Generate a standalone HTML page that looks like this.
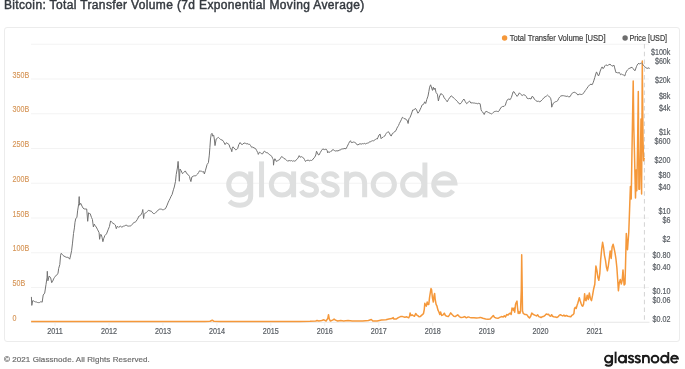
<!DOCTYPE html>
<html><head><meta charset="utf-8"><style>
html,body{margin:0;padding:0;background:#fff;width:685px;height:369px;overflow:hidden;}
.t{position:absolute;font-family:"Liberation Sans", sans-serif;white-space:nowrap;}
</style></head><body>
<div style="position:absolute;left:4px;top:27px;width:674px;height:313px;border:1px solid #ececec;border-radius:3px;"></div>
<svg width="685" height="369" viewBox="0 0 685 369" style="position:absolute;left:0;top:0;will-change:transform">
<text x="3.9" y="8.8" font-family='"Liberation Sans", sans-serif' font-size="12" fill="#353a40" stroke="#353a40" stroke-width="0.45" letter-spacing="0.36">Bitcoin: Total Transfer Volume (7d Exponential Moving Average)</text>
<line x1="31" y1="44.25" x2="649" y2="44.25" stroke="#f3f3f3" stroke-width="1"/>
<line x1="31" y1="79" x2="649" y2="79" stroke="#f3f3f3" stroke-width="1"/>
<line x1="31" y1="113.75" x2="649" y2="113.75" stroke="#f3f3f3" stroke-width="1"/>
<line x1="31" y1="148.5" x2="649" y2="148.5" stroke="#f3f3f3" stroke-width="1"/>
<line x1="31" y1="183.25" x2="649" y2="183.25" stroke="#f3f3f3" stroke-width="1"/>
<line x1="31" y1="218" x2="649" y2="218" stroke="#f3f3f3" stroke-width="1"/>
<line x1="31" y1="252.75" x2="649" y2="252.75" stroke="#f3f3f3" stroke-width="1"/>
<line x1="31" y1="287.5" x2="649" y2="287.5" stroke="#f3f3f3" stroke-width="1"/>
<line x1="31" y1="322.25" x2="649.5" y2="322.25" stroke="#e6e6e6" stroke-width="1"/>
<line x1="55.0" y1="322.5" x2="55.0" y2="326" stroke="#f0f0f0" stroke-width="1"/>
<line x1="109.0" y1="322.5" x2="109.0" y2="326" stroke="#f0f0f0" stroke-width="1"/>
<line x1="162.9" y1="322.5" x2="162.9" y2="326" stroke="#f0f0f0" stroke-width="1"/>
<line x1="216.9" y1="322.5" x2="216.9" y2="326" stroke="#f0f0f0" stroke-width="1"/>
<line x1="270.8" y1="322.5" x2="270.8" y2="326" stroke="#f0f0f0" stroke-width="1"/>
<line x1="324.8" y1="322.5" x2="324.8" y2="326" stroke="#f0f0f0" stroke-width="1"/>
<line x1="378.8" y1="322.5" x2="378.8" y2="326" stroke="#f0f0f0" stroke-width="1"/>
<line x1="432.7" y1="322.5" x2="432.7" y2="326" stroke="#f0f0f0" stroke-width="1"/>
<line x1="486.7" y1="322.5" x2="486.7" y2="326" stroke="#f0f0f0" stroke-width="1"/>
<line x1="540.6" y1="322.5" x2="540.6" y2="326" stroke="#f0f0f0" stroke-width="1"/>
<line x1="594.6" y1="322.5" x2="594.6" y2="326" stroke="#f0f0f0" stroke-width="1"/>
<line x1="644.4" y1="44" x2="644.4" y2="321" stroke="#d3d3d3" stroke-width="1" stroke-dasharray="4.5,3.25"/>
<g fill="none" stroke="#dedfdf" stroke-width="5"><circle cx="239.3" cy="184.4" r="10.6"/>
<path d="M250.7,171.6 V196 C250.7,202 246,205.3 240,205.3 C235.5,205.3 232,203.9 229.4,201.3"/>
<path d="M261.55,161.4 V197.3"/>
<circle cx="281.9" cy="184.5" r="10.6"/>
<path d="M293.6,171.4 V197.3"/>
<path d="M316.6,178.3 C315.3,175.4 312.5,173.8 309.3,173.8 C305.5,173.8 302.8,175.9 302.8,178.9 C302.8,182.2 306,183.2 309.5,184 C313.3,184.9 316.5,186.3 316.5,189.8 C316.5,193.2 313.4,195.3 309.4,195.3 C305.8,195.3 302.8,193.6 301.3,190.8"/>
<path transform="translate(20.8,0)" d="M316.6,178.3 C315.3,175.4 312.5,173.8 309.3,173.8 C305.5,173.8 302.8,175.9 302.8,178.9 C302.8,182.2 306,183.2 309.5,184 C313.3,184.9 316.5,186.3 316.5,189.8 C316.5,193.2 313.4,195.3 309.4,195.3 C305.8,195.3 302.8,193.6 301.3,190.8"/>
<path d="M346.6,197.3 V171.6 M346.6,183.5 C346.6,177.6 350.6,173.9 355.6,173.9 C360.8,173.9 364.65,177.6 364.65,183.5 V197.3"/>
<circle cx="383.8" cy="184.6" r="10.6"/>
<circle cx="413.2" cy="184.7" r="10.6"/>
<path d="M424.9,162.5 V197.4"/>
<path d="M433.75,183.1 H454.85 A10.6,10.6 0 1 0 453.0,190.6"/></g>
<path d="M31.1,321.6 L100.0,321.6 L150.0,321.6 L205.0,321.5 L210.0,321.3 L212.3,320.2 L214.0,321.3 L220.0,321.5 L260.0,321.5 L300.0,321.4 L310.0,321.3 L315.8,321.0 L317.0,320.5 L318.8,321.0 L321.7,320.5 L323.9,319.8 L326.1,321.0 L327.8,318.4 L328.5,314.7 L329.3,319.1 L330.4,321.0 L332.6,320.1 L334.1,319.1 L335.5,320.1 L337.7,321.0 L340.7,320.5 L343.6,321.0 L348.0,320.5 L352.3,321.0 L356.7,321.0 L362.6,321.0 L368.4,320.5 L371.3,319.5 L372.8,321.0 L377.2,321.0 L381.5,320.1 L385.9,319.8 L388.8,319.1 L391.8,318.6 L393.2,317.6 L393.9,319.1 L396.1,319.1 L398.3,317.6 L400.5,316.6 L402.7,316.6 L404.9,317.2 L406.8,316.8 L408.7,317.8 L409.6,316.0 L410.1,312.9 L410.9,315.6 L412.1,314.8 L413.3,315.6 L414.5,316.3 L415.7,313.5 L416.6,314.8 L417.8,315.6 L419.0,316.8 L420.2,316.6 L421.5,315.4 L422.7,314.4 L423.5,313.5 L424.3,309.3 L424.8,303.2 L425.5,305.0 L426.3,306.2 L427.2,302.0 L427.9,304.4 L428.8,304.4 L429.6,297.1 L430.4,292.2 L431.0,288.5 L431.6,289.8 L432.4,297.7 L433.3,302.0 L434.0,295.9 L434.6,293.4 L435.2,299.5 L436.1,304.4 L437.0,306.2 L437.9,309.9 L438.9,312.0 L439.8,314.4 L440.6,312.0 L441.6,315.4 L442.8,315.1 L444.3,313.2 L445.5,315.6 L447.1,316.3 L448.3,316.6 L449.5,314.8 L450.7,312.9 L452.3,314.8 L453.8,316.3 L455.2,316.6 L456.5,315.6 L457.7,314.8 L459.3,316.6 L461.1,317.6 L462.9,317.2 L464.7,316.6 L466.4,317.8 L468.2,316.9 L469.9,317.4 L471.7,317.8 L474.0,317.8 L476.4,318.0 L478.7,317.8 L480.4,317.4 L482.2,318.0 L483.9,318.6 L485.7,319.0 L488.0,319.2 L490.1,319.0 L491.5,317.4 L493.3,315.5 L494.5,317.4 L496.2,318.0 L498.0,318.3 L499.7,317.4 L501.5,316.6 L503.2,316.9 L504.4,315.7 L505.5,316.9 L506.7,314.5 L507.9,315.1 L509.1,313.9 L510.2,313.1 L511.2,314.5 L512.0,308.1 L512.8,308.7 L513.5,310.4 L514.0,308.1 L514.7,312.2 L515.5,304.6 L516.1,302.8 L517.0,301.1 L517.5,307.5 L518.2,313.4 L519.0,311.6 L519.8,313.4 L520.5,311.6 L521.3,290.0 L521.7,254.7 L522.2,290.0 L522.5,311.0 L523.3,313.4 L524.8,314.5 L526.3,314.5 L527.2,315.1 L528.3,316.9 L529.5,318.0 L530.7,316.3 L531.8,313.1 L533.0,314.3 L534.7,315.1 L536.5,315.9 L537.7,314.8 L538.8,316.6 L540.0,317.0 L541.1,317.6 L542.3,316.7 L544.0,316.2 L545.1,315.3 L546.3,313.9 L547.4,314.4 L548.5,314.2 L549.7,315.9 L550.8,316.2 L551.6,314.7 L552.5,316.2 L553.7,316.7 L555.4,317.0 L557.1,317.4 L558.2,316.7 L559.4,315.1 L560.5,314.7 L561.6,315.3 L562.8,315.9 L563.9,315.1 L565.1,316.2 L566.4,315.5 L567.9,316.2 L569.4,316.4 L570.8,316.7 L571.9,315.3 L573.0,314.7 L573.9,313.6 L574.5,308.5 L575.3,307.3 L576.2,308.5 L577.0,305.6 L577.8,303.3 L578.7,299.9 L579.3,297.7 L580.1,300.5 L581.0,303.3 L581.9,305.6 L582.7,306.2 L583.5,304.5 L584.2,298.8 L584.6,293.7 L585.3,299.9 L586.1,300.7 L587.2,295.2 L588.3,299.6 L589.3,293.0 L590.4,298.5 L591.5,300.7 L592.6,295.2 L593.7,288.7 L594.8,284.3 L595.9,265.9 L597.0,271.0 L597.9,277.5 L598.8,280.3 L599.8,273.7 L600.7,259.4 L601.7,249.0 L602.6,242.3 L603.6,248.0 L604.5,255.6 L605.5,260.4 L606.4,267.0 L607.4,270.8 L608.3,266.1 L609.3,258.5 L610.2,250.9 L611.2,258.5 L612.1,247.1 L613.1,244.2 L614.0,248.0 L615.0,252.8 L615.9,258.5 L616.9,268.0 L617.8,281.3 L618.4,290.8 L619.2,283.2 L620.3,279.4 L621.3,284.1 L622.2,280.3 L623.0,269.9 L624.1,285.0 L625.0,284.0 L625.5,266.0 L626.3,233.5 L627.5,249.7 L628.8,231.8 L629.6,209.2 L630.4,186.5 L631.2,199.0 L632.0,150.0 L633.2,81.0 L633.8,127.0 L634.4,150.0 L635.5,198.0 L636.2,170.0 L636.8,190.7 L637.5,150.0 L638.3,91.5 L638.7,150.0 L638.9,189.3 L639.6,189.3 L640.5,150.0 L641.0,119.0 L641.6,194.0 L642.3,61.0 L643.0,140.0 L643.6,160.8 L644.3,158.0" fill="none" stroke="#f5983a" stroke-width="1.5" stroke-linejoin="round"/>
<path d="M31.4,296.9 L31.8,305.4 L32.7,300.7 L33.7,300.9 L34.6,301.6 L35.5,301.9 L36.5,302.0 L37.5,302.5 L38.4,302.6 L39.4,302.6 L40.3,301.9 L41.2,301.8 L42.2,302.2 L43.2,295.0 L44.7,293.1 L46.0,284.5 L47.0,277.9 L47.3,271.3 L47.9,280.8 L49.2,276.0 L50.7,277.9 L51.7,282.7 L52.7,281.2 L53.6,278.9 L54.5,277.4 L55.5,276.1 L56.4,275.1 L57.2,274.7 L58.0,273.2 L58.7,268.4 L59.8,264.6 L60.6,255.2 L61.2,253.3 L62.1,254.2 L63.1,255.5 L64.0,256.1 L65.0,256.6 L65.9,257.1 L66.8,257.4 L67.8,257.3 L68.8,257.9 L69.7,259.2 L70.7,255.1 L71.6,250.7 L72.5,243.1 L73.5,233.6 L74.4,227.9 L75.0,222.2 L75.8,218.4 L76.9,217.5 L77.6,210.9 L78.8,203.3 L79.2,196.6 L79.5,205.2 L80.7,203.3 L82.0,206.1 L83.0,208.0 L84.0,208.9 L84.9,209.0 L85.8,209.0 L86.7,209.0 L87.7,221.3 L88.6,212.7 L89.4,213.5 L90.2,213.7 L91.5,217.5 L92.4,219.4 L93.4,227.0 L94.3,224.1 L95.2,225.7 L96.2,227.0 L97.7,229.8 L99.1,232.7 L99.6,239.3 L100.4,234.6 L101.3,234.7 L102.0,237.2 L102.9,241.7 L103.6,238.8 L104.9,235.5 L106.5,233.9 L108.1,229.8 L109.4,226.6 L110.6,220.9 L111.7,222.2 L113.0,223.3 L114.3,224.1 L115.4,225.0 L116.3,228.7 L117.1,226.6 L117.9,226.5 L118.7,227.4 L120.3,226.1 L121.2,226.9 L122.0,227.1 L123.6,226.1 L124.4,226.0 L125.2,225.4 L126.0,225.4 L126.8,225.1 L127.7,226.3 L128.5,226.1 L129.3,226.0 L130.1,226.1 L130.9,225.8 L132.5,224.1 L134.1,222.2 L134.9,222.4 L135.8,221.7 L137.4,219.3 L139.0,216.0 L139.8,215.8 L140.7,215.2 L142.0,212.8 L142.8,209.5 L143.6,218.5 L144.2,214.4 L145.5,212.8 L146.3,212.6 L147.2,211.5 L148.0,210.8 L148.8,210.3 L150.0,211.0 L151.2,211.1 L152.0,211.9 L152.9,213.2 L153.7,213.6 L154.5,213.6 L155.3,212.8 L156.9,211.6 L157.9,210.2 L158.8,209.7 L159.8,209.0 L160.7,209.1 L161.6,209.0 L162.6,210.0 L163.5,209.7 L164.4,209.2 L165.4,208.8 L166.8,205.9 L168.3,202.1 L169.2,200.3 L170.2,198.3 L171.1,196.2 L172.1,194.5 L173.4,189.8 L174.3,187.0 L175.5,181.3 L176.2,174.6 L177.4,168.0 L178.1,161.4 L178.7,169.0 L179.3,181.3 L180.0,169.0 L181.2,170.9 L182.5,173.7 L183.8,172.4 L185.3,170.9 L186.8,173.7 L188.2,174.6 L189.5,176.5 L190.3,180.0 L190.9,181.6 L191.9,176.9 L192.9,176.4 L193.8,175.9 L194.8,175.8 L195.7,175.9 L196.6,174.8 L197.6,174.0 L198.6,172.5 L199.5,170.8 L200.4,171.1 L201.4,171.2 L202.5,171.8 L203.6,171.6 L204.4,174.0 L205.5,170.2 L207.1,164.5 L208.4,162.7 L209.3,155.1 L209.9,147.5 L210.5,139.0 L211.2,134.2 L212.0,133.3 L212.7,136.1 L213.7,135.2 L214.3,139.0 L215.0,145.6 L216.2,139.0 L217.5,138.0 L218.4,137.4 L219.4,138.4 L220.3,139.0 L221.2,139.9 L222.2,139.9 L223.7,141.8 L225.1,144.6 L226.4,142.7 L227.9,143.7 L229.1,144.6 L229.9,147.3 L231.0,149.0 L231.8,151.7 L232.3,148.4 L232.9,146.8 L234.0,147.9 L235.0,149.3 L235.8,149.8 L236.7,149.5 L237.7,148.4 L238.8,144.6 L240.1,142.5 L241.2,144.1 L242.1,144.6 L242.9,144.1 L244.0,143.0 L245.3,143.2 L246.2,143.9 L247.0,143.5 L248.6,144.3 L249.7,144.3 L250.7,145.7 L251.6,147.3 L252.7,147.1 L254.0,147.9 L255.6,148.6 L256.7,150.6 L257.8,152.7 L258.3,154.4 L259.4,152.2 L260.5,152.7 L261.6,153.8 L262.7,153.8 L263.7,151.7 L264.6,151.1 L265.4,152.2 L266.2,152.6 L267.0,152.7 L267.8,152.9 L268.6,153.8 L269.7,154.9 L270.8,155.5 L271.9,156.5 L272.6,158.4 L273.3,159.8 L273.5,165.2 L274.0,161.4 L274.8,158.7 L275.4,159.2 L276.2,161.4 L277.3,160.9 L278.4,160.3 L279.4,159.8 L280.5,158.2 L281.6,156.5 L282.7,157.1 L283.8,158.4 L285.2,159.0 L286.5,160.1 L287.6,161.2 L289.2,160.5 L290.3,160.9 L291.4,160.5 L292.5,161.2 L293.6,160.8 L294.7,161.2 L295.5,160.9 L296.3,159.7 L297.9,158.3 L299.2,155.6 L300.1,157.2 L301.7,156.7 L302.5,157.3 L303.3,157.7 L304.4,159.4 L305.5,161.5 L306.6,160.5 L308.2,160.1 L309.0,160.7 L309.8,160.8 L310.6,160.3 L311.5,160.5 L312.3,160.1 L313.1,159.0 L314.7,157.2 L315.8,155.0 L316.5,151.2 L317.4,152.9 L318.0,154.5 L319.0,155.0 L320.4,152.3 L321.7,150.2 L322.8,148.9 L324.4,149.6 L325.2,149.4 L326.1,149.1 L327.2,150.7 L327.7,152.9 L328.5,151.8 L329.9,152.3 L330.7,151.5 L331.5,151.2 L332.3,149.9 L333.1,149.6 L334.7,150.7 L335.8,151.1 L336.9,150.7 L338.0,151.0 L339.1,150.2 L340.7,149.9 L341.5,148.9 L342.3,148.9 L343.1,149.0 L344.0,148.5 L345.0,148.6 L346.0,148.8 L347.3,146.3 L348.6,143.6 L349.7,141.5 L350.5,140.7 L351.3,142.6 L352.9,142.3 L353.7,142.0 L354.6,142.3 L355.4,142.6 L356.2,143.9 L357.0,144.7 L358.0,144.9 L359.0,144.2 L360.1,143.7 L361.1,144.2 L362.7,143.6 L363.5,143.8 L364.3,143.3 L365.1,143.9 L365.9,143.9 L366.8,143.2 L367.6,143.1 L368.8,142.7 L370.0,141.5 L370.8,141.8 L371.7,141.0 L372.5,140.7 L373.7,140.8 L374.9,139.8 L375.7,139.3 L376.5,138.8 L377.3,139.0 L378.1,137.1 L379.0,135.0 L380.1,134.1 L381.1,138.7 L382.1,137.5 L383.0,137.4 L383.9,136.4 L384.7,136.1 L385.5,134.6 L386.3,133.3 L387.9,131.7 L389.2,132.5 L390.3,135.0 L391.2,136.1 L392.5,133.3 L393.4,132.9 L394.4,132.2 L395.2,131.0 L396.0,130.6 L396.9,128.2 L397.7,126.8 L398.5,125.6 L399.3,123.6 L400.6,121.1 L401.3,119.7 L402.4,117.3 L403.2,117.7 L404.1,118.6 L405.7,118.9 L406.5,120.2 L407.3,120.5 L408.1,123.5 L408.9,118.9 L410.1,117.3 L411.4,114.0 L412.7,110.0 L413.8,110.0 L415.4,108.3 L416.6,110.0 L417.9,113.2 L419.2,111.6 L420.3,109.1 L421.1,107.5 L422.0,105.1 L422.8,104.6 L423.6,104.3 L424.7,101.8 L425.7,103.5 L426.8,99.4 L428.0,96.1 L428.9,91.3 L429.6,87.2 L430.6,84.8 L431.7,88.0 L432.5,90.4 L433.3,87.2 L434.1,89.6 L435.0,88.0 L436.1,92.6 L437.4,94.2 L438.4,101.0 L439.3,97.0 L440.7,93.7 L442.0,94.2 L443.1,95.3 L444.2,97.8 L445.5,99.4 L446.4,100.6 L447.2,101.8 L448.5,99.4 L449.6,97.8 L451.2,95.8 L452.0,96.4 L452.8,97.0 L453.6,98.0 L454.5,98.6 L455.3,99.5 L456.1,100.2 L457.4,101.4 L458.7,103.3 L460.1,104.1 L461.7,102.3 L462.8,100.3 L463.9,99.0 L465.2,101.4 L466.6,103.7 L468.2,102.3 L469.5,101.0 L470.9,103.0 L472.3,102.8 L473.3,103.0 L474.3,103.0 L475.3,103.3 L476.3,103.3 L477.3,103.8 L478.3,103.3 L479.2,103.5 L480.1,103.7 L480.7,107.1 L481.1,109.8 L481.7,111.2 L482.5,111.8 L483.4,113.2 L484.2,114.5 L485.1,112.2 L486.1,111.4 L487.2,111.8 L488.5,112.5 L489.9,113.2 L490.7,113.5 L491.5,113.9 L492.4,113.4 L493.2,112.5 L494.2,111.7 L495.3,111.4 L496.3,111.2 L497.3,111.4 L498.2,111.7 L499.1,110.9 L500.0,109.1 L501.4,107.1 L502.7,106.4 L504.1,106.4 L505.4,105.1 L506.4,101.7 L507.5,99.6 L508.8,99.0 L510.2,99.6 L511.3,97.6 L512.2,94.9 L513.1,91.9 L514.0,91.7 L515.0,93.7 L516.1,94.7 L517.1,96.4 L518.1,95.1 L519.4,92.8 L520.8,94.4 L522.2,95.5 L523.5,94.7 L524.9,95.1 L526.2,96.4 L527.2,98.4 L528.5,98.7 L529.9,98.4 L531.0,99.1 L532.0,96.4 L533.4,97.1 L534.3,99.1 L535.7,100.5 L537.1,101.4 L538.4,101.2 L539.8,101.8 L541.1,100.9 L542.5,99.5 L543.8,97.8 L545.2,96.8 L546.5,96.0 L547.5,95.1 L548.6,96.0 L549.7,97.1 L550.6,98.2 L551.3,101.2 L551.7,107.2 L552.4,105.5 L553.3,103.2 L554.3,102.5 L555.3,101.8 L556.7,101.4 L557.8,100.5 L558.7,98.4 L559.7,97.1 L560.8,96.0 L562.1,95.7 L563.5,95.7 L564.3,95.9 L565.1,96.0 L566.0,96.3 L566.9,96.4 L567.8,96.1 L568.6,96.8 L570.0,96.7 L571.4,94.3 L572.7,92.7 L573.8,92.4 L574.8,92.3 L575.6,92.8 L576.4,93.2 L577.8,95.0 L579.1,94.3 L580.0,93.9 L580.9,94.6 L581.8,94.4 L582.6,94.0 L584.0,92.7 L585.3,90.5 L586.1,89.5 L587.0,88.2 L588.3,86.4 L589.7,84.8 L591.0,84.1 L592.1,84.8 L593.1,82.8 L594.0,80.1 L594.8,77.4 L595.8,74.0 L596.5,71.9 L597.5,74.0 L598.5,76.0 L599.4,74.0 L600.2,71.0 L601.2,68.6 L602.1,66.9 L602.9,68.6 L603.9,67.9 L604.9,65.8 L605.9,64.8 L607.3,65.6 L608.7,64.8 L610.0,64.2 L611.1,65.2 L612.0,66.2 L613.1,65.7 L614.0,65.2 L614.7,67.9 L615.5,71.1 L616.1,72.8 L616.9,72.2 L618.0,73.3 L619.0,72.2 L619.8,73.3 L620.5,74.7 L621.5,74.1 L622.6,74.7 L623.7,75.1 L624.8,76.0 L625.6,73.3 L626.6,71.1 L627.7,69.7 L628.8,68.6 L629.9,68.2 L631.0,67.6 L632.1,67.3 L633.1,68.6 L634.2,70.1 L635.0,70.8 L635.6,69.0 L636.4,66.8 L637.1,65.2 L638.0,63.9 L638.9,63.2 L639.6,64.1 L640.4,63.6 L641.3,62.8 L642.1,63.6 L642.9,64.6 L643.7,65.7 L644.5,66.3 L645.4,67.3 L646.1,68.2 L646.9,67.9 L647.8,68.4 L648.6,67.6 L649.4,69.0" fill="none" stroke="#737373" stroke-width="1" stroke-linejoin="round"/>
<text x="12.6" y="77.60" font-family='"Liberation Sans", sans-serif' font-size="8.2" fill="#d6975a" stroke="#d6975a" stroke-width="0.15" textLength="16.66" lengthAdjust="spacingAndGlyphs">350B</text>
<text x="12.6" y="112.35" font-family='"Liberation Sans", sans-serif' font-size="8.2" fill="#d6975a" stroke="#d6975a" stroke-width="0.15" textLength="16.66" lengthAdjust="spacingAndGlyphs">300B</text>
<text x="12.6" y="147.10" font-family='"Liberation Sans", sans-serif' font-size="8.2" fill="#d6975a" stroke="#d6975a" stroke-width="0.15" textLength="16.66" lengthAdjust="spacingAndGlyphs">250B</text>
<text x="12.6" y="181.85" font-family='"Liberation Sans", sans-serif' font-size="8.2" fill="#d6975a" stroke="#d6975a" stroke-width="0.15" textLength="16.66" lengthAdjust="spacingAndGlyphs">200B</text>
<text x="12.6" y="216.60" font-family='"Liberation Sans", sans-serif' font-size="8.2" fill="#d6975a" stroke="#d6975a" stroke-width="0.15" textLength="16.66" lengthAdjust="spacingAndGlyphs">150B</text>
<text x="12.6" y="251.35" font-family='"Liberation Sans", sans-serif' font-size="8.2" fill="#d6975a" stroke="#d6975a" stroke-width="0.15" textLength="16.66" lengthAdjust="spacingAndGlyphs">100B</text>
<text x="12.6" y="286.10" font-family='"Liberation Sans", sans-serif' font-size="8.2" fill="#d6975a" stroke="#d6975a" stroke-width="0.15" textLength="12.69" lengthAdjust="spacingAndGlyphs">50B</text>
<text x="12.6" y="320.85" font-family='"Liberation Sans", sans-serif' font-size="8.2" fill="#d6975a" stroke="#d6975a" stroke-width="0.15" textLength="3.97" lengthAdjust="spacingAndGlyphs">0</text>
<text x="670.4" y="55.10" text-anchor="end" font-family='"Liberation Sans", sans-serif' font-size="8.2" fill="#5a5f65" stroke="#5a5f65" stroke-width="0.2" textLength="19.44" lengthAdjust="spacingAndGlyphs">$100k</text>
<text x="670.4" y="63.93" text-anchor="end" font-family='"Liberation Sans", sans-serif' font-size="8.2" fill="#5a5f65" stroke="#5a5f65" stroke-width="0.2" textLength="15.47" lengthAdjust="spacingAndGlyphs">$60k</text>
<text x="670.4" y="82.92" text-anchor="end" font-family='"Liberation Sans", sans-serif' font-size="8.2" fill="#5a5f65" stroke="#5a5f65" stroke-width="0.2" textLength="15.47" lengthAdjust="spacingAndGlyphs">$20k</text>
<text x="670.4" y="98.76" text-anchor="end" font-family='"Liberation Sans", sans-serif' font-size="8.2" fill="#5a5f65" stroke="#5a5f65" stroke-width="0.2" textLength="11.50" lengthAdjust="spacingAndGlyphs">$8k</text>
<text x="670.4" y="110.74" text-anchor="end" font-family='"Liberation Sans", sans-serif' font-size="8.2" fill="#5a5f65" stroke="#5a5f65" stroke-width="0.2" textLength="11.50" lengthAdjust="spacingAndGlyphs">$4k</text>
<text x="670.4" y="134.70" text-anchor="end" font-family='"Liberation Sans", sans-serif' font-size="8.2" fill="#5a5f65" stroke="#5a5f65" stroke-width="0.2" textLength="11.50" lengthAdjust="spacingAndGlyphs">$1k</text>
<text x="670.4" y="143.53" text-anchor="end" font-family='"Liberation Sans", sans-serif' font-size="8.2" fill="#5a5f65" stroke="#5a5f65" stroke-width="0.2" textLength="15.87" lengthAdjust="spacingAndGlyphs">$600</text>
<text x="670.4" y="162.52" text-anchor="end" font-family='"Liberation Sans", sans-serif' font-size="8.2" fill="#5a5f65" stroke="#5a5f65" stroke-width="0.2" textLength="15.87" lengthAdjust="spacingAndGlyphs">$200</text>
<text x="670.4" y="178.36" text-anchor="end" font-family='"Liberation Sans", sans-serif' font-size="8.2" fill="#5a5f65" stroke="#5a5f65" stroke-width="0.2" textLength="11.90" lengthAdjust="spacingAndGlyphs">$80</text>
<text x="670.4" y="190.34" text-anchor="end" font-family='"Liberation Sans", sans-serif' font-size="8.2" fill="#5a5f65" stroke="#5a5f65" stroke-width="0.2" textLength="11.90" lengthAdjust="spacingAndGlyphs">$40</text>
<text x="670.4" y="214.30" text-anchor="end" font-family='"Liberation Sans", sans-serif' font-size="8.2" fill="#5a5f65" stroke="#5a5f65" stroke-width="0.2" textLength="11.90" lengthAdjust="spacingAndGlyphs">$10</text>
<text x="670.4" y="223.13" text-anchor="end" font-family='"Liberation Sans", sans-serif' font-size="8.2" fill="#5a5f65" stroke="#5a5f65" stroke-width="0.2" textLength="7.94" lengthAdjust="spacingAndGlyphs">$6</text>
<text x="670.4" y="242.12" text-anchor="end" font-family='"Liberation Sans", sans-serif' font-size="8.2" fill="#5a5f65" stroke="#5a5f65" stroke-width="0.2" textLength="7.94" lengthAdjust="spacingAndGlyphs">$2</text>
<text x="670.4" y="257.96" text-anchor="end" font-family='"Liberation Sans", sans-serif' font-size="8.2" fill="#5a5f65" stroke="#5a5f65" stroke-width="0.2" textLength="17.85" lengthAdjust="spacingAndGlyphs">$0.80</text>
<text x="670.4" y="269.94" text-anchor="end" font-family='"Liberation Sans", sans-serif' font-size="8.2" fill="#5a5f65" stroke="#5a5f65" stroke-width="0.2" textLength="17.85" lengthAdjust="spacingAndGlyphs">$0.40</text>
<text x="670.4" y="293.90" text-anchor="end" font-family='"Liberation Sans", sans-serif' font-size="8.2" fill="#5a5f65" stroke="#5a5f65" stroke-width="0.2" textLength="17.85" lengthAdjust="spacingAndGlyphs">$0.10</text>
<text x="670.4" y="302.73" text-anchor="end" font-family='"Liberation Sans", sans-serif' font-size="8.2" fill="#5a5f65" stroke="#5a5f65" stroke-width="0.2" textLength="17.85" lengthAdjust="spacingAndGlyphs">$0.06</text>
<text x="670.4" y="321.72" text-anchor="end" font-family='"Liberation Sans", sans-serif' font-size="8.2" fill="#5a5f65" stroke="#5a5f65" stroke-width="0.2" textLength="17.85" lengthAdjust="spacingAndGlyphs">$0.02</text>
<text x="55.0" y="334" text-anchor="middle" font-family='"Liberation Sans", sans-serif' font-size="8.2" fill="#5a5f65" stroke="#5a5f65" stroke-width="0.2" textLength="15.52" lengthAdjust="spacingAndGlyphs">2011</text>
<text x="109.0" y="334" text-anchor="middle" font-family='"Liberation Sans", sans-serif' font-size="8.2" fill="#5a5f65" stroke="#5a5f65" stroke-width="0.2" textLength="16.05" lengthAdjust="spacingAndGlyphs">2012</text>
<text x="162.9" y="334" text-anchor="middle" font-family='"Liberation Sans", sans-serif' font-size="8.2" fill="#5a5f65" stroke="#5a5f65" stroke-width="0.2" textLength="16.05" lengthAdjust="spacingAndGlyphs">2013</text>
<text x="216.9" y="334" text-anchor="middle" font-family='"Liberation Sans", sans-serif' font-size="8.2" fill="#5a5f65" stroke="#5a5f65" stroke-width="0.2" textLength="16.05" lengthAdjust="spacingAndGlyphs">2014</text>
<text x="270.8" y="334" text-anchor="middle" font-family='"Liberation Sans", sans-serif' font-size="8.2" fill="#5a5f65" stroke="#5a5f65" stroke-width="0.2" textLength="16.05" lengthAdjust="spacingAndGlyphs">2015</text>
<text x="324.8" y="334" text-anchor="middle" font-family='"Liberation Sans", sans-serif' font-size="8.2" fill="#5a5f65" stroke="#5a5f65" stroke-width="0.2" textLength="16.05" lengthAdjust="spacingAndGlyphs">2016</text>
<text x="378.8" y="334" text-anchor="middle" font-family='"Liberation Sans", sans-serif' font-size="8.2" fill="#5a5f65" stroke="#5a5f65" stroke-width="0.2" textLength="16.05" lengthAdjust="spacingAndGlyphs">2017</text>
<text x="432.7" y="334" text-anchor="middle" font-family='"Liberation Sans", sans-serif' font-size="8.2" fill="#5a5f65" stroke="#5a5f65" stroke-width="0.2" textLength="16.05" lengthAdjust="spacingAndGlyphs">2018</text>
<text x="486.7" y="334" text-anchor="middle" font-family='"Liberation Sans", sans-serif' font-size="8.2" fill="#5a5f65" stroke="#5a5f65" stroke-width="0.2" textLength="16.05" lengthAdjust="spacingAndGlyphs">2019</text>
<text x="540.6" y="334" text-anchor="middle" font-family='"Liberation Sans", sans-serif' font-size="8.2" fill="#5a5f65" stroke="#5a5f65" stroke-width="0.2" textLength="16.05" lengthAdjust="spacingAndGlyphs">2020</text>
<text x="594.6" y="334" text-anchor="middle" font-family='"Liberation Sans", sans-serif' font-size="8.2" fill="#5a5f65" stroke="#5a5f65" stroke-width="0.2" textLength="16.05" lengthAdjust="spacingAndGlyphs">2021</text>
<circle cx="504.6" cy="38" r="2.7" fill="#f5983a"/>
<text x="509.7" y="40.8" font-family='"Liberation Sans", sans-serif' font-size="8.5" fill="#3d3d3d" stroke="#3d3d3d" stroke-width="0.2" textLength="96" lengthAdjust="spacingAndGlyphs">Total Transfer Volume [USD]</text>
<circle cx="625.1" cy="38" r="2.7" fill="#6e6e6e"/>
<text x="629.5" y="40.8" font-family='"Liberation Sans", sans-serif' font-size="8.5" fill="#3d3d3d" stroke="#3d3d3d" stroke-width="0.2" textLength="37.6" lengthAdjust="spacingAndGlyphs">Price [USD]</text>
<text x="4" y="361.9" font-family='"Liberation Sans", sans-serif' font-size="8" fill="#6e6e6e" stroke="#6e6e6e" stroke-width="0.2" letter-spacing="0.08">© 2021 Glassnode. All Rights Reserved.</text>
<g transform="translate(531.25,299.6) scale(0.3225)" fill="none" stroke="#1b1b1b" stroke-width="6.0"><circle cx="239.3" cy="184.4" r="10.6"/>
<path d="M250.7,171.6 V196 C250.7,202 246,205.3 240,205.3 C235.5,205.3 232,203.9 229.4,201.3"/>
<path d="M261.55,161.4 V197.3"/>
<circle cx="281.9" cy="184.5" r="10.6"/>
<path d="M293.6,171.4 V197.3"/>
<path d="M316.6,178.3 C315.3,175.4 312.5,173.8 309.3,173.8 C305.5,173.8 302.8,175.9 302.8,178.9 C302.8,182.2 306,183.2 309.5,184 C313.3,184.9 316.5,186.3 316.5,189.8 C316.5,193.2 313.4,195.3 309.4,195.3 C305.8,195.3 302.8,193.6 301.3,190.8"/>
<path transform="translate(20.8,0)" d="M316.6,178.3 C315.3,175.4 312.5,173.8 309.3,173.8 C305.5,173.8 302.8,175.9 302.8,178.9 C302.8,182.2 306,183.2 309.5,184 C313.3,184.9 316.5,186.3 316.5,189.8 C316.5,193.2 313.4,195.3 309.4,195.3 C305.8,195.3 302.8,193.6 301.3,190.8"/>
<path d="M346.6,197.3 V171.6 M346.6,183.5 C346.6,177.6 350.6,173.9 355.6,173.9 C360.8,173.9 364.65,177.6 364.65,183.5 V197.3"/>
<circle cx="383.8" cy="184.6" r="10.6"/>
<circle cx="413.2" cy="184.7" r="10.6"/>
<path d="M424.9,162.5 V197.4"/>
<path d="M433.75,183.1 H454.85 A10.6,10.6 0 1 0 453.0,190.6"/></g>
</svg>
</body></html>
